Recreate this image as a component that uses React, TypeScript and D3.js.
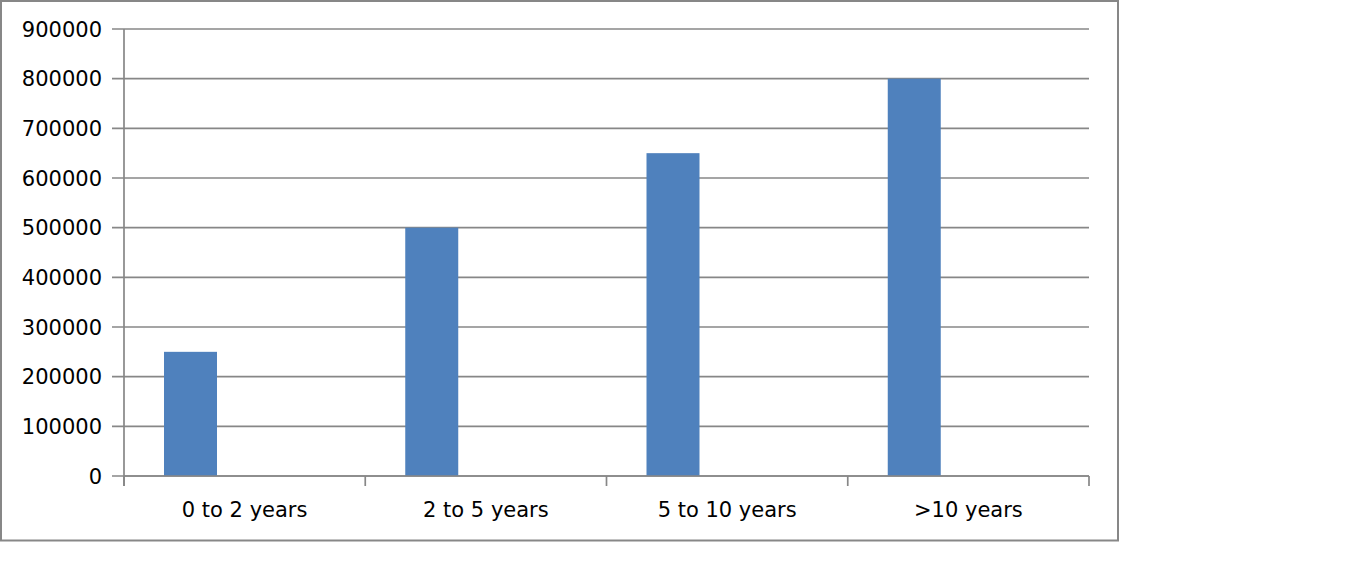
import React from "react";
import * as d3 from "d3";

const categories = ["0 to 2 years", "2 to 5 years", "5 to 10 years", ">10 years"];
const values = [250000, 500000, 650000, 800000];
const yTicks = [0, 100000, 200000, 300000, 400000, 500000, 600000, 700000, 800000, 900000];

export default function App() {
  const W = 1360, H = 561;
  const x0 = 124, x1 = 1089, yTop = 29, yBot = 476;
  const x = d3.scaleBand<string>().domain(categories).range([x0, x1]).padding(0);
  const y = d3.scaleLinear().domain([0, 900000]).range([yBot, yTop]);
  const bw = x.bandwidth();
  const grid = "#878787";
  const font = "'DejaVu Sans', Verdana, sans-serif";
  const boundaries = [...categories.map((c) => x(c) as number), x1];
  return (
    <svg width={W} height={H} style={{ position: "absolute", left: 0, top: 0, background: "#fff" }}>
      <rect x={1} y={1} width={1117} height={539.5} fill="#fff" stroke={grid} strokeWidth={2} />
      {yTicks.map((t) => (
        <g key={t}>
          <line x1={112} x2={x1} y1={y(t)} y2={y(t)} stroke={grid} strokeWidth={1.7} />
          <text x={102} y={y(t)} dy="0.36em" textAnchor="end" fontFamily={font} fontSize={21} fill="#000">
            {t}
          </text>
        </g>
      ))}
      {categories.map((c, i) => (
        <rect key={c} x={(x(c) as number) + bw * 0.1658} width={bw * 0.2197} y={y(values[i])} height={yBot - y(values[i])} fill="#4F81BD" />
      ))}
      <line x1={x0} x2={x0} y1={yTop} y2={486} stroke={grid} strokeWidth={1.7} />
      <line x1={x0} x2={x1} y1={yBot} y2={yBot} stroke={grid} strokeWidth={1.7} />
      {boundaries.map((b, i) => (
        <line key={i} x1={b} x2={b} y1={yBot} y2={486} stroke={grid} strokeWidth={1.7} />
      ))}
      {categories.map((c) => (
        <text key={c} x={(x(c) as number) + bw / 2} y={509} dy="0.36em" textAnchor="middle" fontFamily={font} fontSize={21} fill="#000">
          {c}
        </text>
      ))}
    </svg>
  );
}
